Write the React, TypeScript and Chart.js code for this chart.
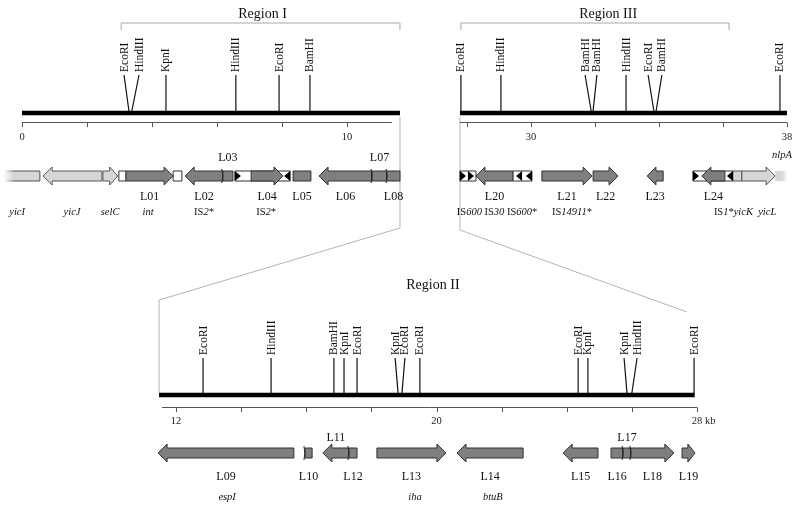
import React, { useEffect, useRef } from 'react';
import { Chart, registerables } from 'chart.js';

Chart.register(...registerables);

const W = 800;
const H = 507;

// ---------------- data (kb) ----------------
// Region I
const r1Span = [0, 11.63];
const r1Bracket = [3.05, 11.63];
const r1SiteNames = ['EcoRI', 'HindIII', 'KpnI', 'HindIII', 'EcoRI', 'BamHI'];
const r1SiteKb = [3.29, 3.38, 4.43, 6.58, 7.91, 8.86];
const r1SiteLabelKb = [3.14, 3.6, 4.43, 6.58, 7.91, 8.86];
const r1Ticks = [0, 2, 4, 6, 8, 10];
const r1TickLabels = ['0', '', '', '', '', '10'];
const r1Genes = [
  { from: -0.52, to: 0.55, dir: 0, shade: 'light', fade: -1 },
  { from: 0.65, to: 2.46, dir: -1, shade: 'light' },
  { from: 2.49, to: 2.95, dir: 1, shade: 'light' },
  { from: 2.98, to: 3.2, dir: 0, shade: 'white' },
  { from: 3.2, to: 4.65, dir: 1, shade: 'dark', label: 'L01' },
  { from: 4.65, to: 4.92, dir: 0, shade: 'white' },
  { from: 5.02, to: 6.18, dir: -1, shade: 'dark', label: 'L02' },
  { from: 6.18, to: 6.49, dir: 0, shade: 'dark', label: 'L03', above: true },
  { from: 6.55, to: 8.25, dir: 0, shade: 'white' },
  { from: 7.05, to: 8.03, dir: 1, shade: 'dark', label: 'L04' },
  { from: 8.34, to: 8.89, dir: 0, shade: 'dark', label: 'L05' },
  { from: 9.14, to: 10.77, dir: -1, shade: 'dark', label: 'L06' },
  { from: 10.77, to: 11.23, dir: 0, shade: 'dark', label: 'L07', above: true },
  { from: 11.23, to: 11.63, dir: 0, shade: 'dark', label: 'L08' },
];
const r1Repeats = [{ kb: 6.55, dir: 1 }, { kb: 8.25, dir: -1 }];
const r1Dividers = [6.18, 10.77, 11.23];
const r1Names = [
  { text: '/yicI/', kb: -0.15 },
  { text: '/yicJ/', kb: 1.54 },
  { text: '/selC/', kb: 2.71 },
  { text: '/int/', kb: 3.88 },
  { text: 'IS/2/*', kb: 5.6 },
  { text: 'IS/2/*', kb: 7.51 },
];

// Region II
const r2Span = [11.48, 27.93];
const r2SiteNames = ['EcoRI', 'HindIII', 'BamHI', 'KpnI', 'EcoRI', 'KpnI', 'EcoRI', 'EcoRI', 'EcoRI', 'KpnI', 'KpnI', 'HindIII', 'EcoRI'];
const r2SiteKb = [12.83, 14.92, 16.85, 17.16, 17.56, 18.82, 18.94, 19.49, 24.35, 24.65, 25.85, 26.0, 27.91];
const r2SiteLabelKb = [12.83, 14.92, 16.85, 17.16, 17.56, 18.73, 19.03, 19.49, 24.35, 24.65, 25.76, 26.16, 27.91];
const r2Ticks = [12, 14, 16, 18, 20, 22, 24, 26, 28];
const r2TickLabels = ['12', '', '', '', '20', '', '', '', '28'];
const r2Unit = 'kb';
const r2Genes = [
  { from: 11.45, to: 15.62, dir: -1, shade: 'dark', label: 'L09' },
  { from: 15.96, to: 16.18, dir: 0, shade: 'dark', label: 'L10' },
  { from: 16.51, to: 17.31, dir: -1, shade: 'dark', label: 'L11', above: true },
  { from: 17.31, to: 17.56, dir: 0, shade: 'dark', label: 'L12' },
  { from: 18.17, to: 20.29, dir: 1, shade: 'dark', label: 'L13' },
  { from: 20.63, to: 22.66, dir: -1, shade: 'dark', label: 'L14' },
  { from: 23.89, to: 24.96, dir: -1, shade: 'dark', label: 'L15' },
  { from: 25.36, to: 25.73, dir: 0, shade: 'dark', label: 'L16' },
  { from: 25.73, to: 25.97, dir: 0, shade: 'dark', label: 'L17', above: true },
  { from: 25.97, to: 27.29, dir: 1, shade: 'dark', label: 'L18' },
  { from: 27.54, to: 27.94, dir: 1, shade: 'dark', label: 'L19' },
];
const r2Repeats: { kb: number; dir: number }[] = [];
const r2Dividers = [15.96, 17.31, 25.73, 25.97];
const r2Names = [
  { text: '/espI/', kb: 13.57 },
  { text: '/iha/', kb: 19.34 },
  { text: '/btuB/', kb: 21.73 },
];

// Region III
const r3Span = [27.78, 38.0];
const r3Bracket = [27.81, 36.19];
const r3SiteNames = ['EcoRI', 'HindIII', 'BamHI', 'BamHI', 'HindIII', 'EcoRI', 'BamHI', 'EcoRI'];
const r3SiteKb = [27.81, 29.06, 31.88, 31.94, 32.97, 33.84, 33.91, 37.78];
const r3SiteLabelKb = [27.81, 29.06, 31.69, 32.06, 32.97, 33.66, 34.09, 37.78];
const r3Ticks = [28, 30, 32, 34, 36, 38];
const r3TickLabels = ['', '30', '', '', '', '38'];
const r3Genes = [
  { from: 27.78, to: 28.28, dir: 0, shade: 'white' },
  { from: 28.28, to: 29.44, dir: -1, shade: 'dark', label: 'L20' },
  { from: 29.44, to: 30.03, dir: 0, shade: 'white' },
  { from: 30.34, to: 31.91, dir: 1, shade: 'dark', label: 'L21' },
  { from: 31.94, to: 32.72, dir: 1, shade: 'dark', label: 'L22' },
  { from: 33.63, to: 34.13, dir: -1, shade: 'dark', label: 'L23' },
  { from: 35.06, to: 36.31, dir: 0, shade: 'white' },
  { from: 35.34, to: 36.06, dir: -1, shade: 'dark', label: 'L24' },
  { from: 36.31, to: 36.59, dir: 0, shade: 'light' },
  { from: 36.59, to: 37.63, dir: 1, shade: 'light' },
  { from: 37.63, to: 38.0, dir: 0, shade: 'light', fade: 1 },
];
const r3Repeats = [
  { kb: 27.78, dir: 1 }, { kb: 28.03, dir: 1 },
  { kb: 29.72, dir: -1 }, { kb: 30.03, dir: -1 },
  { kb: 35.06, dir: 1 }, { kb: 36.31, dir: -1 },
];
const r3Dividers: number[] = [];
const r3Names = [
  { text: 'IS/600/ IS/30/ IS/600/*', kb: 28.94 },
  { text: 'IS/14911/*', kb: 31.28 },
  { text: 'IS/1/*/yicK  yicL/', kb: 36.69 },
];
const r3AboveNames = [{ text: '/nlpA/', kb: 37.84 }];

// ---------------- layout (not data) ----------------
const MAP_I = { origin: 22, kb0: 0, ppk: 32.5 };
const MAP_II = { origin: 176, kb0: 12, ppk: 32.5625 };
const MAP_III = { origin: 467, kb0: 28, ppk: 32 };

const TOP = { title: 14, bracket: 23, bracketTick: 30, siteLabel: 72, siteTop: 75, map: 113, axis: 122, tickEnd: 127, tickLabel: 137, above: 158, gene: 176, below: 197, names: 212 };
const BOT = { title: 285, bracket: 0, bracketTick: 0, siteLabel: 355, siteTop: 358, map: 395, axis: 407, tickEnd: 412, tickLabel: 421, above: 438, gene: 453, below: 477, names: 497 };

const SERIF = '"Liberation Serif", "Times New Roman", serif';
const SHADES: Record<string, string> = { dark: '#7f7f7f', light: '#d6d6d6', white: '#ffffff' };

const regions = [
  { id: 'xI', title: 'Region I', titleKb: 7.4, bracket: r1Bracket, span: r1Span, axisSpan: [0, 11.38], names: r1SiteNames, kb: r1SiteKb, lkb: r1SiteLabelKb, ticks: r1Ticks, tickLabels: r1TickLabels, unit: '', genes: r1Genes, repeats: r1Repeats, dividers: r1Dividers, geneNames: r1Names, aboveNames: [] as any[], rows: TOP },
  { id: 'xII', title: 'Region II', titleKb: 19.89, bracket: null as any, span: r2Span, axisSpan: [11.57, 28], names: r2SiteNames, kb: r2SiteKb, lkb: r2SiteLabelKb, ticks: r2Ticks, tickLabels: r2TickLabels, unit: r2Unit, genes: r2Genes, repeats: r2Repeats, dividers: r2Dividers, geneNames: r2Names, aboveNames: [] as any[], rows: BOT },
  { id: 'xIII', title: 'Region III', titleKb: 32.41, bracket: r3Bracket, span: r3Span, axisSpan: [27.78, 38], names: r3SiteNames, kb: r3SiteKb, lkb: r3SiteLabelKb, ticks: r3Ticks, tickLabels: r3TickLabels, unit: '', genes: r3Genes, repeats: r3Repeats, dividers: r3Dividers, geneNames: r3Names, aboveNames: r3AboveNames, rows: TOP },
];

// connectors: [scaleId, kb, row]
const leftConnector: [string, number, number][] = [['xI', 11.63, 117], ['xI', 11.63, 228], ['xII', 11.48, 300], ['xII', 11.48, 393]];
const rightConnector: [string, number, number][] = [['xIII', 27.78, 117], ['xIII', 27.78, 230], ['xII', 27.69, 312]];

function scaleFor(m: { origin: number; kb0: number; ppk: number }) {
  return {
    type: 'linear', axis: 'x', display: false, bounds: 'data',
    min: m.kb0 - m.origin / m.ppk,
    max: m.kb0 + (W - m.origin) / m.ppk,
  };
}

function richText(ctx: CanvasRenderingContext2D, str: string, cx: number, cy: number, size: number, align = 'center') {
  const parts = str.split('/');
  const font = (i: number) => `${i % 2 ? 'italic ' : ''}${size}px ${SERIF}`;
  let total = 0;
  const widths = parts.map((p, i) => { ctx.font = font(i); const w = ctx.measureText(p).width; total += w; return w; });
  let x = align === 'center' ? cx - total / 2 : cx;
  ctx.textAlign = 'left';
  ctx.textBaseline = 'middle';
  parts.forEach((p, i) => { ctx.font = font(i); ctx.fillText(p, x, cy); x += widths[i]; });
}

function genePath(ctx: CanvasRenderingContext2D, a: number, b: number, y: number, dir: number) {
  const bh = 5, hh = 9;
  const len = b - a;
  const hl = Math.min(9, len * 0.55);
  ctx.beginPath();
  if (dir > 0) {
    ctx.moveTo(a, y - bh); ctx.lineTo(b - hl, y - bh); ctx.lineTo(b - hl, y - hh); ctx.lineTo(b, y);
    ctx.lineTo(b - hl, y + hh); ctx.lineTo(b - hl, y + bh); ctx.lineTo(a, y + bh);
  } else if (dir < 0) {
    ctx.moveTo(b, y - bh); ctx.lineTo(a + hl, y - bh); ctx.lineTo(a + hl, y - hh); ctx.lineTo(a, y);
    ctx.lineTo(a + hl, y + hh); ctx.lineTo(a + hl, y + bh); ctx.lineTo(b, y + bh);
  } else {
    ctx.moveTo(a, y - bh); ctx.lineTo(b, y - bh); ctx.lineTo(b, y + bh); ctx.lineTo(a, y + bh);
  }
  ctx.closePath();
}

const mapPlugin = {
  id: 'geneMap',
  beforeDatasetsDraw(chart: any) {
    const ctx: CanvasRenderingContext2D = chart.ctx;
    const Y = chart.scales.y;
    const px = (id: string, kb: number) => chart.scales[id].getPixelForValue(kb);
    ctx.save();
    // connectors
    ctx.strokeStyle = '#b4b4b4';
    ctx.lineWidth = 1;
    [leftConnector, rightConnector].forEach((pts) => {
      ctx.beginPath();
      pts.forEach(([id, kb, row], i) => {
        const x = px(id, kb), y = Y.getPixelForValue(row);
        if (i === 0) ctx.moveTo(x, y); else ctx.lineTo(x, y);
      });
      ctx.stroke();
    });
    regions.forEach((r) => {
      const R = r.rows;
      // bracket
      if (r.bracket) {
        const x1 = px(r.id, r.bracket[0]), x2 = px(r.id, r.bracket[1]);
        ctx.strokeStyle = '#a8a8a8';
        ctx.beginPath();
        ctx.moveTo(x1, Y.getPixelForValue(R.bracketTick));
        ctx.lineTo(x1, Y.getPixelForValue(R.bracket));
        ctx.lineTo(x2, Y.getPixelForValue(R.bracket));
        ctx.lineTo(x2, Y.getPixelForValue(R.bracketTick));
        ctx.stroke();
      }
      // kb axis
      ctx.strokeStyle = '#555';
      ctx.lineWidth = 1;
      const ay = Math.round(Y.getPixelForValue(R.axis)) + 0.5;
      ctx.beginPath();
      ctx.moveTo(px(r.id, r.axisSpan[0]), ay);
      ctx.lineTo(px(r.id, r.axisSpan[1]), ay);
      r.ticks.forEach((t) => {
        const x = Math.round(px(r.id, t)) + 0.5;
        ctx.moveTo(x, ay);
        ctx.lineTo(x, Y.getPixelForValue(R.tickEnd));
      });
      ctx.stroke();
      ctx.fillStyle = '#222';
      r.ticks.forEach((t, i) => {
        const lab = r.tickLabels[i];
        if (!lab) return;
        const x = px(r.id, t);
        const ty = Y.getPixelForValue(R.tickLabel);
        ctx.font = `10.5px ${SERIF}`;
        ctx.textAlign = 'center';
        ctx.textBaseline = 'middle';
        ctx.fillText(lab, x, ty);
        if (r.unit && i === r.ticks.length - 1) {
          const w = ctx.measureText(lab).width;
          ctx.textAlign = 'left';
          ctx.fillText(' ' + r.unit, x + w / 2, ty);
        }
      });
    });
    ctx.restore();
  },
  afterDatasetsDraw(chart: any) {
    const ctx: CanvasRenderingContext2D = chart.ctx;
    const Y = chart.scales.y;
    const px = (id: string, kb: number) => chart.scales[id].getPixelForValue(kb);
    ctx.save();
    regions.forEach((r) => {
      const R = r.rows;
      const gy = Y.getPixelForValue(R.gene);
      // genes
      r.genes.forEach((g: any) => {
        const a = px(r.id, g.from), b = px(r.id, g.to);
        const fill = SHADES[g.shade];
        if (g.fade) {
          const grad = ctx.createLinearGradient(a, 0, b, 0);
          const stroke = ctx.createLinearGradient(a, 0, b, 0);
          if (g.fade < 0) {
            grad.addColorStop(0, 'rgba(214,214,214,0.15)');
            grad.addColorStop(0.25, fill);
            grad.addColorStop(1, fill);
            stroke.addColorStop(0, 'rgba(80,80,80,0.1)');
            stroke.addColorStop(0.3, 'rgba(80,80,80,1)');
            stroke.addColorStop(1, 'rgba(80,80,80,1)');
            ctx.fillStyle = grad;
            ctx.fillRect(a, gy - 5, b - a, 10);
            ctx.strokeStyle = stroke;
            ctx.lineWidth = 1;
            ctx.beginPath();
            ctx.moveTo(a, gy - 5); ctx.lineTo(b, gy - 5); ctx.lineTo(b, gy + 5); ctx.lineTo(a, gy + 5);
            ctx.stroke();
          } else {
            grad.addColorStop(0, fill);
            grad.addColorStop(0.6, fill);
            grad.addColorStop(1, 'rgba(214,214,214,0.1)');
            ctx.fillStyle = grad;
            ctx.fillRect(a, gy - 5, b - a, 10);
          }
          return;
        }
        genePath(ctx, a, b, gy, g.dir);
        ctx.fillStyle = fill;
        ctx.fill();
        ctx.strokeStyle = g.shade === 'light' ? '#555' : '#333';
        ctx.lineWidth = 1;
        ctx.stroke();
      });
      // inverted repeat markers
      ctx.fillStyle = '#000';
      r.repeats.forEach((m) => {
        const x = px(r.id, m.kb);
        ctx.beginPath();
        ctx.moveTo(x, gy - 5);
        ctx.lineTo(x + 6 * m.dir, gy);
        ctx.lineTo(x, gy + 5);
        ctx.closePath();
        ctx.fill();
      });
      // dividers
      ctx.strokeStyle = '#222';
      ctx.lineWidth = 1;
      r.dividers.forEach((d) => {
        const x = px(r.id, d);
        ctx.beginPath();
        ctx.moveTo(x - 1, gy - 7);
        ctx.quadraticCurveTo(x + 1, gy, x - 1, gy + 7);
        ctx.stroke();
      });
      // gene labels
      ctx.fillStyle = '#111';
      ctx.font = `12px ${SERIF}`;
      ctx.textAlign = 'center';
      ctx.textBaseline = 'middle';
      r.genes.forEach((g: any) => {
        if (!g.label) return;
        const x = (px(r.id, g.from) + px(r.id, g.to)) / 2;
        ctx.fillText(g.label, x, Y.getPixelForValue(g.above ? R.above : R.below));
      });
      // gene names
      r.geneNames.forEach((n) => richText(ctx, n.text, px(r.id, n.kb), Y.getPixelForValue(R.names), 10.5));
      r.aboveNames.forEach((n: any) => richText(ctx, n.text, px(r.id, n.kb), Y.getPixelForValue(R.above - 3), 10.5));
      // site labels (vertical)
      ctx.fillStyle = '#111';
      ctx.font = `11.5px ${SERIF}`;
      r.names.forEach((name, i) => {
        const x = px(r.id, r.lkb[i]);
        ctx.save();
        ctx.translate(x + 0.5, Y.getPixelForValue(R.siteLabel));
        ctx.rotate(-Math.PI / 2);
        ctx.textAlign = 'left';
        ctx.textBaseline = 'middle';
        ctx.fillText(name, 0, 0);
        ctx.restore();
      });
      // title
      ctx.font = `14px ${SERIF}`;
      ctx.textAlign = 'center';
      ctx.textBaseline = 'middle';
      ctx.fillText(r.title, px(r.id, r.titleKb), Y.getPixelForValue(R.title));
    });
    ctx.restore();
  },
};

function buildDatasets() {
  const ds: any[] = [];
  regions.forEach((r) => {
    ds.push({
      data: [{ x: r.span[0], y: r.rows.map }, { x: r.span[1], y: r.rows.map }],
      xAxisID: r.id, yAxisID: 'y', showLine: true, borderColor: '#000', borderWidth: 4.5,
      pointRadius: 0, borderCapStyle: 'butt',
    });
    r.kb.forEach((k, i) => {
      ds.push({
        data: [{ x: k, y: r.rows.map - 2 }, { x: r.lkb[i], y: r.rows.siteTop }],
        xAxisID: r.id, yAxisID: 'y', showLine: true, borderColor: '#111', borderWidth: 1.2,
        pointRadius: 0,
      });
    });
  });
  return ds;
}

export default function App() {
  const ref = useRef<HTMLCanvasElement>(null);
  useEffect(() => {
    const chart = new Chart(ref.current as HTMLCanvasElement, {
      type: 'scatter',
      data: { datasets: buildDatasets() },
      options: {
        animation: false,
        responsive: false,
        devicePixelRatio: 1,
        events: [],
        layout: { padding: 0 },
        plugins: { legend: { display: false }, tooltip: { enabled: false } },
        scales: {
          xI: scaleFor(MAP_I) as any,
          xII: scaleFor(MAP_II) as any,
          xIII: scaleFor(MAP_III) as any,
          y: { type: 'linear', display: false, min: 0, max: H, reverse: true },
        },
      },
      plugins: [mapPlugin as any],
    });
    return () => chart.destroy();
  }, []);
  return (
    <div style={{ position: 'absolute', left: 0, top: 0, width: W, height: H, background: '#fff' }}>
      <canvas ref={ref} width={W} height={H} style={{ display: 'block', width: W, height: H }} />
    </div>
  );
}
